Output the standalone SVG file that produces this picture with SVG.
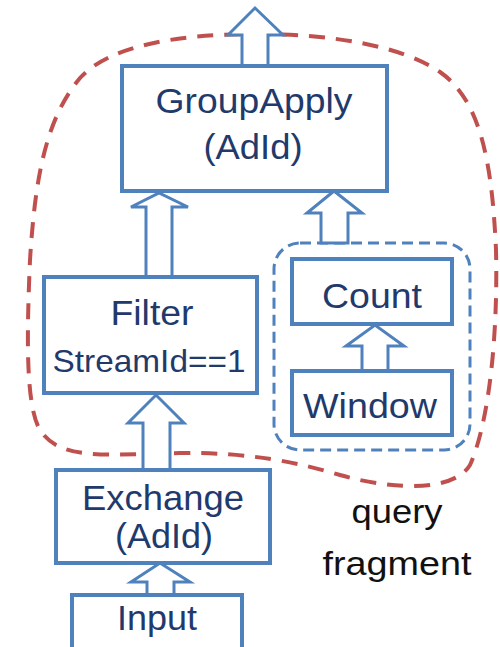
<svg xmlns="http://www.w3.org/2000/svg" width="500" height="647" viewBox="0 0 500 647">
  <style>
    .box { fill: #ffffff; stroke: #4f81bd; stroke-width: 4; }
    .arrow { fill: #ffffff; stroke: #4f81bd; stroke-width: 3; stroke-linejoin: miter; }
    .lbl { font-family: "Liberation Sans", Arial, sans-serif; fill: #1f3a6b; text-anchor: middle; }
    .note { font-family: "Liberation Sans", Arial, sans-serif; fill: #111111; text-anchor: middle; }
    .fragment { fill: none; stroke: #c0504d; stroke-width: 4; stroke-dasharray: 16 11; }
    .group { fill: none; stroke: #4f81bd; stroke-width: 3; stroke-dasharray: 11 6; }
  </style>
  <rect width="500" height="647" fill="#ffffff"/>

  <!-- query fragment outline -->
  <path id="fragment-outline" class="fragment" d="M255,34 C330,34 400,45 440,72 C480,100 492,160 496,250 C498,330 490,420 470,465 C455,490 400,492 340,475 C300,463 250,452 180,453 C100,455 60,460 40,430 C25,405 27,330 30,260 C35,180 45,120 80,78 C110,45 180,34 255,34 Z"/>

  <!-- Count/Window grouping -->
  <rect id="count-window-group" class="group" x="274" y="243" width="196" height="207" rx="26" ry="26"/>

  <!-- connectors: hollow block arrows -->
  <g id="connectors">
    <polygon class="arrow" points="242,66 242,35 228,35 255,8 283,35 268,35 268,66"/>
    <polygon class="arrow" points="146,277 146,207 131,207 159,193 188,207 172,207 172,277"/>
    <polygon class="arrow" points="143,470 143,423 128,423 156,395 184,423 170,423 170,470"/>
    <polygon class="arrow" points="147,595 147,582 131,582 160,563 190,582 174,582 174,595"/>
    <polygon class="arrow" points="362,371 362,346 346,346 375,325 404,346 388,346 388,371"/>
    <polygon class="arrow" points="321,243 321,213 307,213 334,191 362,213 348,213 348,243"/>
  </g>

  <g id="groupapply">
    <rect class="box" x="122" y="66" width="265" height="125"/>
    <text class="lbl" x="254" y="113" font-size="35" textLength="197" lengthAdjust="spacingAndGlyphs">GroupApply</text>
    <text class="lbl" x="253" y="159" font-size="35" textLength="99" lengthAdjust="spacingAndGlyphs">(AdId)</text>
  </g>

  <g id="filter">
    <rect class="box" x="44" y="277" width="213" height="116"/>
    <text class="lbl" x="152" y="325" font-size="35" textLength="83" lengthAdjust="spacingAndGlyphs">Filter</text>
    <text class="lbl" x="149" y="372" font-size="32" textLength="193" lengthAdjust="spacingAndGlyphs">StreamId==1</text>
  </g>

  <g id="count">
    <rect class="box" x="292" y="259" width="160" height="65"/>
    <text class="lbl" x="372" y="308" font-size="35" textLength="100" lengthAdjust="spacingAndGlyphs">Count</text>
  </g>

  <g id="window">
    <rect class="box" x="292" y="371" width="160" height="64"/>
    <text class="lbl" x="370" y="418" font-size="35" textLength="134" lengthAdjust="spacingAndGlyphs">Window</text>
  </g>

  <g id="exchange">
    <rect class="box" x="56" y="470" width="214" height="93"/>
    <text class="lbl" x="163" y="510" font-size="35" textLength="162" lengthAdjust="spacingAndGlyphs">Exchange</text>
    <text class="lbl" x="164" y="548" font-size="35" textLength="98" lengthAdjust="spacingAndGlyphs">(AdId)</text>
  </g>

  <g id="input">
    <rect class="box" x="72" y="595" width="170" height="70"/>
    <text class="lbl" x="157" y="630" font-size="35" textLength="80" lengthAdjust="spacingAndGlyphs">Input</text>
  </g>

  <g id="fragment-label">
    <text class="note" x="397" y="523" font-size="34" textLength="91" lengthAdjust="spacingAndGlyphs">query</text>
    <text class="note" x="397" y="575" font-size="34" textLength="149" lengthAdjust="spacingAndGlyphs">fragment</text>
  </g>
</svg>
